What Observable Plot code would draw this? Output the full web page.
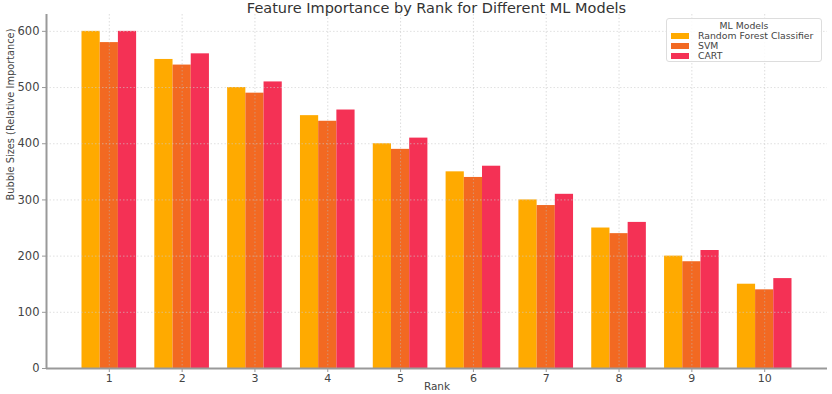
<!DOCTYPE html>
<html><head><meta charset="utf-8">
<script src="https://cdn.jsdelivr.net/npm/d3@7"></script>
<script src="https://cdn.jsdelivr.net/npm/@observablehq/plot@0.6"></script>
<style>
body{margin:0;background:#fff;font-family:"DejaVu Sans",sans-serif;}
#wrap{position:relative;width:832px;height:394px;overflow:hidden;}
#title{position:absolute;left:46px;width:781px;top:1px;text-align:center;font-size:14.5px;line-height:15px;color:#333;}
#legend{position:absolute;left:666px;top:18px;width:156px;height:44px;border:1px solid #ddd;border-radius:3px;background:rgba(255,255,255,0.85);font-size:9.3px;color:#444;box-sizing:border-box;}
#legend .t{text-align:center;margin-top:1px;height:11px;line-height:11px;}
#legend .r{display:flex;align-items:center;height:10px;line-height:10px;margin-left:4px;}
#legend .s{width:18px;height:6px;margin-right:9px;}
</style></head>
<body><div id="wrap"><div id="chart"></div><div id="title">Feature Importance by Rank for Different ML Models</div><div id="legend"></div></div>
<script>
const ranks = [1,2,3,4,5,6,7,8,9,10];
const models = ["Random Forest Classifier","SVM","CART"];
const rf   = [600,550,500,450,400,350,300,250,200,150];
const svm  = [580,540,490,440,390,340,290,240,190,140];
const cart = [600,560,510,460,410,360,310,260,210,160];
const colors = ["#FFAA00","#F26922","#F43155"];
const yTicks = [0,100,200,300,400,500,600];

const barWidth = 0.25;
const series = [rf, svm, cart];
const data = [];
ranks.forEach((r,i)=>models.forEach((m,j)=>data.push({
  rank:r, model:m, value:series[j][i],
  x1: r + (j-1)*barWidth - barWidth/2, x2: r + (j-1)*barWidth + barWidth/2
})));

const chart = Plot.plot({
  width: 832, height: 394,
  marginLeft: 46, marginRight: 5, marginTop: 14, marginBottom: 26,
  style: {fontFamily: "DejaVu Sans, sans-serif", fontSize: "11px", color: "#444", background: "transparent"},
  x: {domain: [0.1375, 10.8625], axis: null},
  y: {domain: [0, 630], axis: null},
  color: {domain: models, range: colors},
  marks: [
    Plot.rectY(data, {x1: "x1", x2: "x2", y1: 0, y2: "value", fill: "model"}),
    Plot.gridY(yTicks.slice(1), {stroke: "#ccc", strokeOpacity: 0.6, strokeDasharray: "1.5,2"}),
    Plot.gridX(ranks, {stroke: "#bbb", strokeOpacity: 0.5, strokeDasharray: "1.5,2"}),
    Plot.axisY({ticks: yTicks, tickSize: 4, tickPadding: 3, stroke: "#999", fill: "#444", fontSize: 11.5, label: null}),
    Plot.axisX({ticks: ranks, tickSize: 4, tickPadding: 2, stroke: "#999", fill: "#444", fontSize: 11, label: null, tickFormat: d => String(d)}),
    Plot.text(["Rank"], {frameAnchor: "bottom", dy: 21, fontSize: 10.5, fill: "#444"}),
    Plot.text(["Bubble Sizes (Relative Importance)"], {frameAnchor: "left", dx: -36, dy: 9, rotate: -90, fontSize: 9.8, fill: "#444"}),
    Plot.ruleY([0], {stroke: "#999", strokeWidth: 2}),
    Plot.ruleX([0.1375], {stroke: "#999", strokeWidth: 2})
  ]
});
document.getElementById("chart").appendChild(chart);

const lg = document.getElementById("legend");
lg.innerHTML = '<div class="t">ML Models</div>' + models.map((m,i)=>`<div class="r"><div class="s" style="background:${colors[i]}"></div>${m}</div>`).join("");
</script></body></html>
